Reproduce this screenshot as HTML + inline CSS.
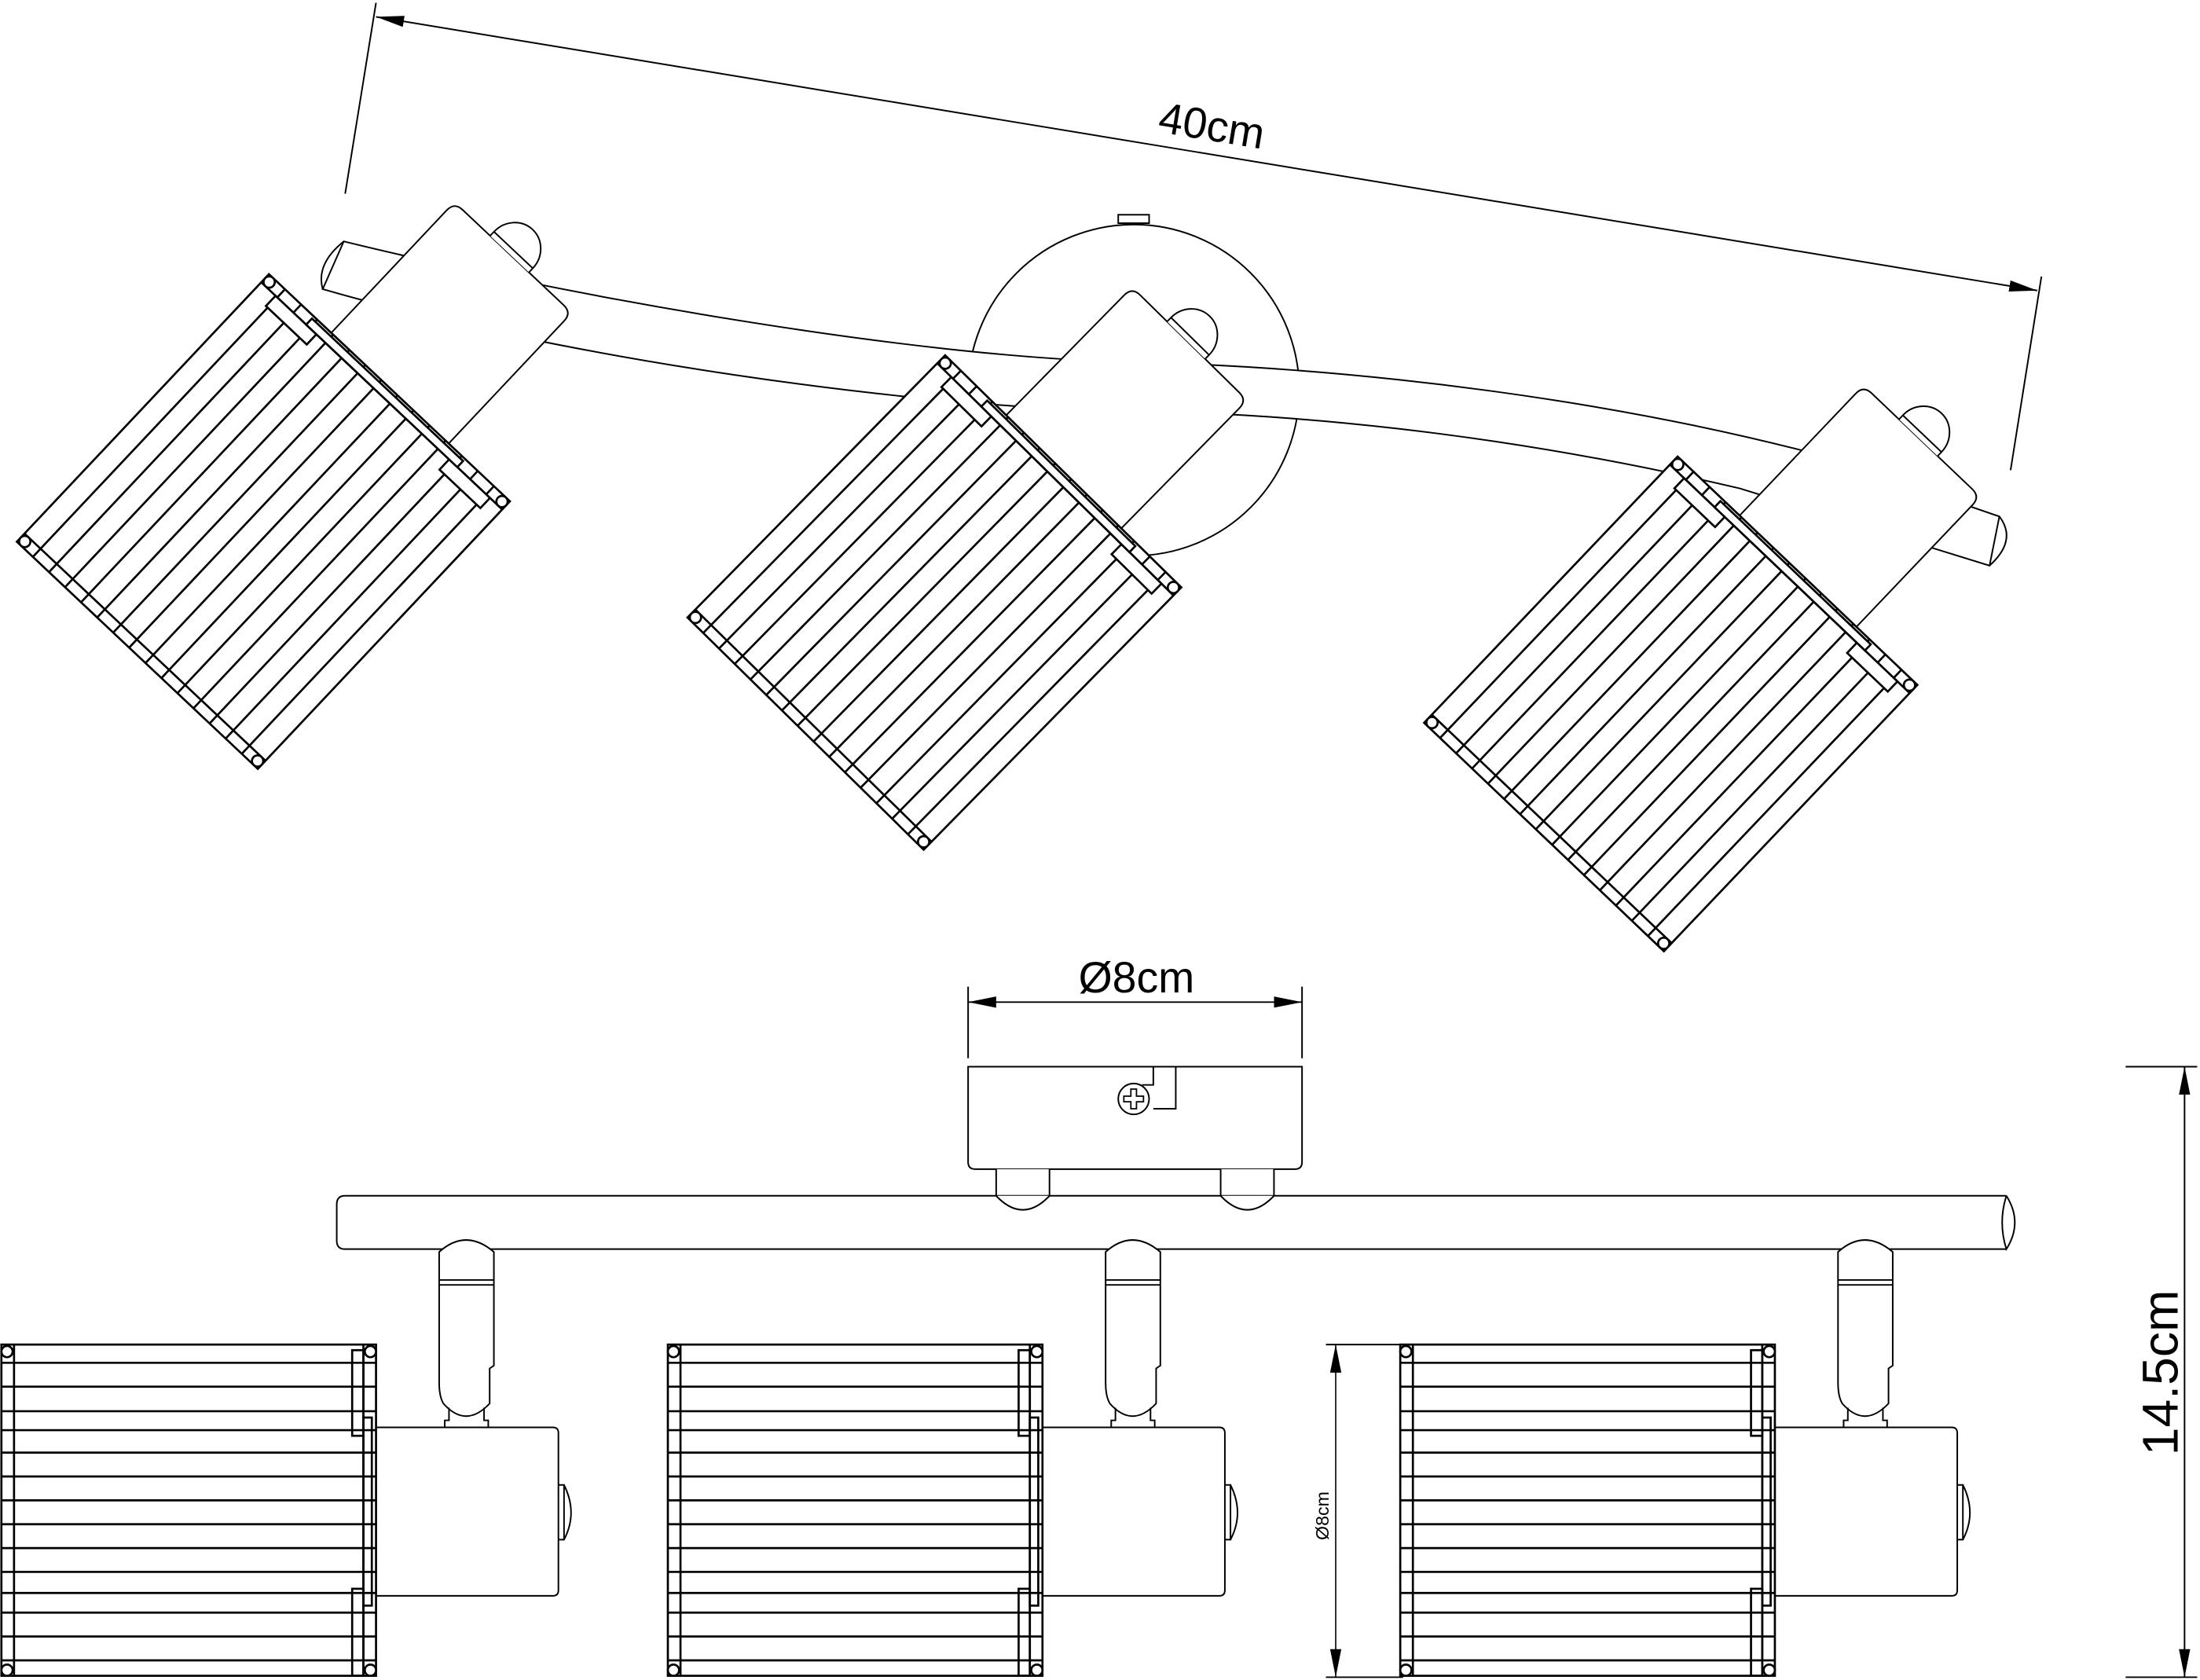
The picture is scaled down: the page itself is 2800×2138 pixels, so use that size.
<!DOCTYPE html>
<html><head><meta charset="utf-8"><style>html,body{margin:0;padding:0;background:#fff}svg{display:block}</style></head>
<body>
<svg width="2800" height="2138" viewBox="0 0 1568 1197" preserveAspectRatio="none" xmlns="http://www.w3.org/2000/svg" fill="none" stroke="#000" stroke-width="1.1" font-family="Liberation Sans, sans-serif">
<defs>
<marker id="ar" viewBox="0 0 20 8" refX="20" refY="4" markerWidth="20" markerHeight="8" markerUnits="userSpaceOnUse" orient="auto-start-reverse"><path d="M0,0 L20,4 L0,8 Z" fill="#000" stroke="none"/></marker>
<g id="th">
 <path d="M230,61 H382 Q390,61 390,69 V168 Q390,176 382,176 H230 Z" fill="#fff"/>
 <path d="M390,96 H394 V134 H390 M394,96 A20,19 0 0 1 394,134" fill="#fff"/>
 <g stroke-width="1.5">
 <rect x="0" y="0" width="262" height="236" fill="#fff"/>
 <path d="M0,15.7H262M0,31.5H262M0,47.2H262M0,62.9H262M0,78.7H262M0,94.4H262M0,110H262M0,126H262M0,141.6H262M0,157.3H262M0,173H262M0,188.8H262M0,204.5H262M0,220.3H262"/>
 <path d="M8,0V236M254,0V236"/>
 <rect x="244" y="14" width="10" height="40" fill="#fff"/>
 <rect x="244" y="184" width="10" height="40" fill="#fff"/>
 <rect x="254" y="44" width="6" height="148" fill="#fff"/>
 <circle cx="4" cy="4" r="4" fill="#fff"/><circle cx="4" cy="232" r="4" fill="#fff"/>
 <circle cx="258" cy="4" r="4" fill="#fff"/><circle cx="258" cy="232" r="4" fill="#fff"/>
 </g>
</g>
<g id="fu">
 <path d="M313,892 Q332,875 352,892 V973 L349,975 V1000 Q332,1018 316,1000 Q313,995 313,985 Z" fill="#fff"/>
 <path d="M313,912H352M313,915.5H352"/>
 <path d="M320,1003V1012H317V1017H348V1012H345V1003"/>
 <path d="M265,1017 H394 Q398,1017 398,1021 V1133 Q398,1137 394,1137 H265" fill="#fff"/>
 <path d="M398,1058 H402 V1097 H398 M402,1058 Q412,1078 402,1097"/>
 <g stroke-width="1.5">
 <rect x="1" y="958" width="267" height="236" fill="#fff"/>
 <path d="M1,971H268M1,988H268M1,1005.5H268M1,1019H268M1,1035H268M1,1052H268M1,1069H268M1,1086H268M1,1103H268M1,1120H268M1,1135H268M1,1149H268M1,1166H268M1,1183H268"/>
 <path d="M10,958V1194M259,958V1194"/>
 <rect x="251" y="962" width="8" height="61"/>
 <rect x="251" y="1132" width="8" height="62"/>
 <rect x="259" y="1010" width="6" height="134"/>
 <circle cx="5" cy="963" r="4" fill="#fff"/><circle cx="264" cy="963" r="4" fill="#fff"/>
 <circle cx="5" cy="1190" r="4" fill="#fff"/><circle cx="264" cy="1190" r="4" fill="#fff"/>
 </g>
</g>
</defs>

<!-- 40cm dimension -->
<line x1="268" y1="2" x2="246" y2="138"/>
<line x1="1455" y1="197" x2="1433" y2="335"/>
<line x1="268" y1="12" x2="1452" y2="207" marker-start="url(#ar)" marker-end="url(#ar)"/>
<text x="862" y="100" font-size="31" fill="#000" stroke="none" text-anchor="middle" transform="rotate(9.35 862 100)">40cm</text>

<!-- canopy top -->
<rect x="797" y="153" width="22" height="6" fill="#fff"/>
<circle cx="808" cy="278" r="118" fill="#fff"/>
<!-- arm -->
<path d="M245,172 C400,210 650,255 808,258 C970,262 1150,285 1300,325 L1425,368 L1418,403 L1240,348 C1100,315 950,295 808,293 C650,291 400,255 230,206 Z" fill="#fff"/>
<path d="M245,172 Q225,188 230,206"/>
<path d="M1425,368 Q1438,385 1418,403"/>

<use href="#th" transform="translate(12,386) rotate(-46.7)"/>
<use href="#th" transform="translate(490,440) rotate(-45.5)"/>
<use href="#th" transform="translate(1015,515) rotate(-46.4)"/>

<!-- Ø8cm top dim -->
<line x1="690" y1="703" x2="690" y2="754"/>
<line x1="928" y1="703" x2="928" y2="754"/>
<line x1="690" y1="714" x2="928" y2="714" marker-start="url(#ar)" marker-end="url(#ar)"/>
<rect x="758" y="700" width="104" height="12" fill="#fff" stroke="none"/>
<text x="810" y="707" font-size="31" fill="#000" stroke="none" text-anchor="middle">Ø8cm</text>

<!-- canopy front -->
<path d="M690,760 H928 V828 Q928,833 923,833 H695 Q690,833 690,828 Z" fill="#fff"/>
<path d="M822,760V773H814M838,760V790H822"/>
<circle cx="808" cy="783" r="11" fill="#fff"/>
<path d="M806,776h4v5h5v4h-5v5h-4v-5h-5v-4h5z" stroke-width="1"/>
<path d="M710,833V852Q729,872 748,852V833M870,833V852Q889,872 908,852V833" fill="#fff"/>
<!-- bar -->
<path d="M246,852 H1430 M246,890 H1430 M246,852 Q240,852 240,858 V884 Q240,890 246,890"/>
<path d="M1430,852 Q1442,871 1430,890 Q1424,871 1430,852"/>
<path d="M710,852Q729,872 748,852M870,852Q889,872 908,852" fill="#fff"/>

<use href="#fu"/>
<use href="#fu" transform="translate(475,0)"/>
<use href="#fu" transform="translate(997,0)"/>

<!-- Ø8cm vertical -->
<line x1="945" y1="958" x2="1000" y2="958"/>
<line x1="945" y1="1195" x2="1000" y2="1195"/>
<line x1="952" y1="958" x2="952" y2="1195" marker-start="url(#ar)" marker-end="url(#ar)" stroke-width="0.9"/>
<text x="947" y="1080" font-size="13" fill="#000" stroke="none" text-anchor="middle" transform="rotate(-90 947 1080)">Ø8cm</text>

<!-- 14.5cm -->
<line x1="1515" y1="760" x2="1566" y2="760"/>
<line x1="1515" y1="1195" x2="1566" y2="1195"/>
<line x1="1557" y1="760" x2="1557" y2="1195" marker-start="url(#ar)" marker-end="url(#ar)"/>
<text x="1552" y="978" font-size="36" fill="#000" stroke="none" text-anchor="middle" transform="rotate(-90 1552 978)">14.5cm</text>
</svg>
</body></html>
